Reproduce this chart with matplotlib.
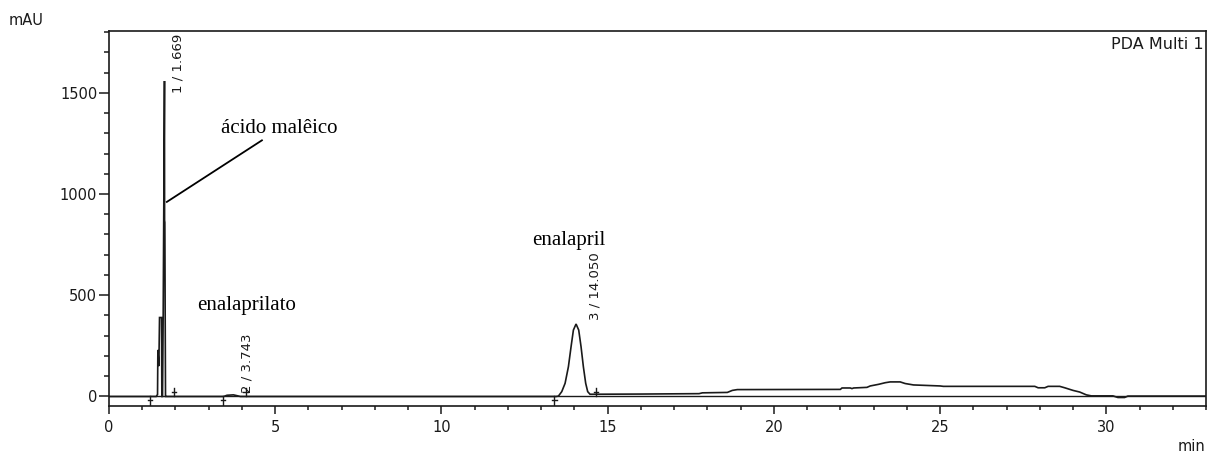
import matplotlib
matplotlib.use("Agg")
import matplotlib.pyplot as plt
from matplotlib.ticker import MultipleLocator

# ---------------- data ----------------
trace_time = [0.0, 1.30, 1.42, 1.46, 1.47, 1.50, 1.52, 1.58, 1.59, 1.61, 1.63, 1.669,
              1.672, 1.68, 1.69, 1.70, 1.73, 3.45, 3.55, 3.743, 3.85, 3.95,
              13.45, 13.52, 13.62, 13.72, 13.82, 13.90, 13.97, 14.05, 14.13, 14.20,
              14.27, 14.34, 14.40, 14.47, 16.0, 17.75, 17.85, 18.60, 18.75, 18.90,
              22.0, 22.05, 22.30, 22.35, 22.40, 22.80, 22.90, 23.15, 23.35, 23.50,
              23.80, 23.95, 24.20, 25.00, 25.10, 27.85, 27.95, 28.15, 28.25, 28.60,
              28.75, 29.00, 29.20, 29.40, 29.55, 30.20, 30.35, 30.55, 30.65, 33.0]
trace_mau = [0, 0, 0, 10, 230, 150, 390, 390, 0, 0, 400, 1558,
             870, 860, 400, 0, 0, 0, 6, 8, 4, 0,
             0, 2, 24, 65, 147, 246, 328, 358, 328, 246,
             147, 65, 24, 11, 12, 14, 18, 20, 30, 34,
             35, 42, 42, 39, 42, 45, 52, 60, 68, 72,
             72, 64, 57, 52, 50, 50, 43, 43, 50, 50,
             43, 30, 22, 8, 3, 3, -5, -5, 2, 2]

peak_times = [1.669, 3.743, 14.050]
peak_labels = ["1 / 1.669", "2 / 3.743", "3 / 14.050"]
peak_start = [1.23, 3.43, 13.40]
peak_end = [1.96, 4.11, 14.65]

compound_names = ["ácido malêico", "enalaprilato", "enalapril"]

x_major = [0, 5, 10, 15, 20, 25, 30]
y_major = [0, 500, 1000, 1500]

# ---------------- figure ----------------
W, H = 1212, 453
fig = plt.figure(figsize=(W / 100, H / 100), dpi=100)
ax = fig.add_axes([109 / W, 47 / H, (1206 - 109) / W, (406 - 31) / H])

ink = "#1a1a1a"
ax.axhline(0, color=ink, lw=1.0, zorder=1)
ax.plot(trace_time, trace_mau, color=ink, lw=1.2, solid_joinstyle="miter", zorder=2)

# integration markers
for ts in peak_start:
    ax.plot([ts, ts], [0, -42], color=ink, lw=1.0)
    ax.plot([ts - 0.07, ts + 0.07], [-17, -17], color=ink, lw=1.0)
for te in peak_end:
    ax.plot([te, te], [0, 42], color=ink, lw=1.0)
    ax.plot([te - 0.07, te + 0.07], [22, 22], color=ink, lw=1.0)

ax.set_xlim(0, 33)
ax.set_ylim(-47, 1805)

ax.set_xticks(x_major)
ax.set_yticks(y_major)
ax.xaxis.set_minor_locator(MultipleLocator(1))
ax.yaxis.set_minor_locator(MultipleLocator(100))

tick_font = dict(family="DejaVu Sans", size=10.5)
ax.set_xticklabels([str(v) for v in x_major], **tick_font)
ax.set_yticklabels([str(v) for v in y_major], **tick_font)
ax.tick_params(axis="x", which="major", length=5.5, width=1.1, pad=4.5, color=ink, labelcolor=ink)
ax.tick_params(axis="x", which="minor", length=2.8, width=1.1, color=ink)
ax.tick_params(axis="y", which="major", length=7.0, width=1.1, pad=1.5, color=ink, labelcolor=ink)
ax.tick_params(axis="y", which="minor", length=3.5, width=1.1, color=ink)
for s in ax.spines.values():
    s.set_color(ink)
    s.set_linewidth(1.2)

# peak labels (rotated)
label_pos = [(2.08, 1497), (4.14, 17), (14.63, 377)]
for (lx, ly), txt in zip(label_pos, peak_labels):
    ax.text(lx, ly, txt, rotation=90, ha="center", va="bottom",
            family="DejaVu Sans", size=9.5, color=ink)

# compound annotations
serif = dict(family="Liberation Serif", size=15, color="black")
ax.text(3.38, 1300, compound_names[0], ha="left", va="baseline", **serif)
ax.plot([1.74, 4.6], [961, 1265], color="black", lw=1.3)
ax.text(2.64, 427, compound_names[1], ha="left", va="baseline", **serif)
ax.text(12.72, 747, compound_names[2], ha="left", va="baseline", **serif)

# axis captions
fig.text(9 / W, 1 - 25 / H, "mAU", ha="left", va="baseline",
         family="DejaVu Sans", size=10.5, color=ink)
fig.text(1205 / W, 2 / H, "min", ha="right", va="baseline",
         family="DejaVu Sans", size=10.5, color=ink)
ax.text(0.998, 0.985, "PDA Multi 1", transform=ax.transAxes, ha="right", va="top",
        family="DejaVu Sans", size=11.5, color=ink)

fig.savefig("out.png", dpi=100, facecolor="white")
